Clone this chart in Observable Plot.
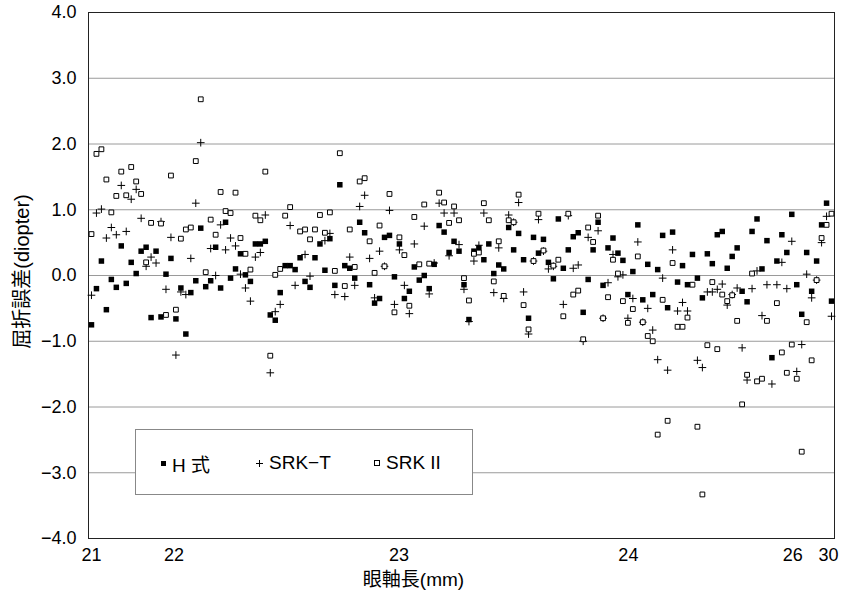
<!DOCTYPE html>
<html><head><meta charset="utf-8">
<script src="https://cdn.jsdelivr.net/npm/d3@7"></script>
<script src="https://cdn.jsdelivr.net/npm/@observablehq/plot@0.6"></script>
<style>
body{margin:0;background:#fff;}
#wrap{position:relative;width:843px;height:590px;font-family:"Liberation Sans","Noto Sans CJK JP",sans-serif;}
#legend{position:absolute;left:135px;top:429px;width:338px;height:66px;border:1px solid #888;background:#fff;box-sizing:border-box;font-size:19px;color:#000;}
#legend .item{position:absolute;top:0;height:66px;display:flex;align-items:center;}
#legend svg{margin-right:5px;}
</style></head><body><div id="wrap"></div>
<script>
// patients sorted by axial length; one value per patient per formula (null = hidden / not visible)
const hSeries = [-0.75,-0.20,0.22,-0.52,-0.06,-0.18,0.45,-0.12,0.20,0.03,0.37,0.43,-0.64,0.37,-0.63,0.02,0.26,-0.66,-0.19,-0.89,
-0.26,-0.08,0.72,-0.17,-0.08,0.43,-0.19,0.81,-0.04,0.10,0.33,0.01,-0.09,0.48,0.48,0.52,-0.60,-0.68,-0.26,0.15,
0.15,0.09,0.27,-0.09,-0.18,0.27,0.48,0.08,0.56,-0.15,1.38,0.15,0.11,-0.04,0.81,0.65,-0.14,-0.42,-0.35,0.58,
0.61,-0.02,0.48,-0.35,-0.24,0.13,-0.07,0.00,-0.20,0.17,0.76,0.66,0.35,0.52,0.37,-0.14,-0.67,0.37,0.42,0.24,
0.48,0.03,0.16,0.10,0.73,0.39,0.64,0.24,-0.65,0.58,0.34,0.55,0.20,-0.05,0.86,0.11,0.39,0.59,0.65,-0.56,
-0.06,0.39,0.81,-0.15,0.42,0.57,0.34,0.23,-0.29,0.06,0.77,-0.37,0.17,-0.29,0.09,0.61,-0.49,0.66,-0.10,0.15,
-0.14,0.32,-0.04,-0.34,0.33,0.18,0.62,0.67,0.11,0.29,0.42,-0.24,-0.40,0.67,0.86,0.10,0.53,-1.25,0.22,0.62,
0.35,0.93,-0.14,-0.59,0.35,-0.24,0.22,0.77,1.10,-0.39];
const tSeries = [-0.30,0.95,1.01,0.57,0.73,0.62,1.37,0.67,1.16,1.31,0.87,0.14,0.28,0.19,0.82,-0.21,0.58,-1.21,-0.25,-0.29,
0.26,1.10,2.02,null,0.41,0.00,0.77,0.39,0.57,0.45,0.02,-0.19,-0.39,0.28,0.35,0.92,-1.48,-0.55,-0.44,null,
0.76,-0.15,null,0.32,-0.01,null,null,0.53,0.64,-0.29,null,-0.32,0.28,-0.15,1.05,1.22,0.26,-0.34,0.37,0.14,
0.99,-0.44,0.39,-0.15,-0.58,0.48,null,0.75,-0.28,0.19,1.10,0.95,0.30,0.95,0.47,-0.21,-0.70,0.22,0.46,0.95,
null,-0.26,0.42,-0.35,0.92,0.81,1.11,-0.25,-0.89,0.22,0.85,0.37,0.10,0.14,null,-0.44,0.91,0.11,0.16,-1.00,
0.58,null,0.68,-0.65,-0.11,0.32,-0.02,0.01,-0.65,-0.35,0.51,-0.71,-0.50,-0.83,-1.28,-0.04,-1.44,0.39,-0.54,-0.41,
-0.54,null,-1.29,-1.40,-0.25,-0.25,-0.21,-0.13,-0.45,-0.29,-0.19,-1.10,-1.59,-0.20,0.07,-0.61,-0.14,-1.65,-0.14,0.20,
-0.20,0.52,-1.46,-1.05,0.02,-0.34,-0.07,0.50,0.90,-0.62];
const sSeries = [0.63,1.85,1.92,1.46,0.96,1.21,1.58,1.22,1.65,1.43,1.24,0.20,0.80,null,0.79,-0.60,1.52,-0.52,0.56,0.70,
0.73,1.74,2.68,0.05,0.85,0.62,1.27,0.98,0.95,1.26,0.57,0.33,0.09,0.91,0.84,1.58,-1.22,0.01,0.10,0.91,
1.04,null,0.67,0.70,0.55,0.70,0.92,0.65,0.96,0.07,1.86,-0.16,0.70,0.13,1.43,1.48,0.52,0.04,0.76,0.14,
1.24,-0.56,0.58,0.31,-0.46,0.89,0.17,1.08,0.18,null,1.26,1.11,0.80,1.05,0.84,-0.04,-0.38,0.33,0.35,1.10,
0.84,-0.09,0.52,-0.31,0.84,0.81,1.23,-0.45,-0.82,0.22,0.94,0.38,null,0.15,0.24,-0.62,0.94,-0.29,-0.23,-0.97,
0.73,0.51,0.91,-0.65,-0.33,0.24,0.03,-0.39,-0.72,-0.51,0.29,-0.71,-0.92,-1.00,-2.42,-0.37,-2.21,0.19,-0.78,-0.78,
-0.64,-0.14,-2.30,-3.33,-1.06,-0.10,-1.12,-0.29,-0.39,-0.30,-0.69,-1.96,-1.51,0.03,-1.61,-1.57,-0.69,null,-0.42,-1.17,
-1.48,-1.05,-1.57,-2.68,-0.71,-1.29,-0.07,0.57,0.77,0.94];
// axial length tick marks placed at patient rank where that length is reached
const xTickPos = [0, 16.6, 61.9, 108.1, 141.2, 148.4];
const xTickLabels = ["21", "22", "23", "24", "26", "30"];
const yTicks = [-4, -3, -2, -1, 0, 1, 2, 3, 4];
const seriesNames = ["H 式", "SRK−T", "SRK II"];
const xTitle = "眼軸長(mm)";
const yTitle = "屈折誤差(diopter)";

const FONT = '"Liberation Sans","Noto Sans CJK JP",sans-serif';
const idx = d3.range(hSeries.length);
const fmtY = d => (d < 0 ? "\u2212" : "") + Math.abs(d).toFixed(1);

const chart = Plot.plot({
  width: 843, height: 590,
  marginLeft: 88, marginRight: 9, marginTop: 12, marginBottom: 52,
  style: {fontFamily: FONT, fontSize: "18px", color: "#000", background: "#fff"},
  x: {domain: [-0.6, 149.6], axis: null},
  y: {domain: [-4, 4], axis: null},
  marks: [
    Plot.gridY(yTicks.slice(1, -1), {stroke: "#9a9a9a", strokeOpacity: 1, strokeWidth: 1}),
    Plot.frame({stroke: "#222"}),
    Plot.axisX(xTickPos, {tickSize: 0, tickPadding: 10, fontSize: 18, label: null,
      tickFormat: d => xTickLabels[xTickPos.indexOf(d)]}),
    Plot.axisY(yTicks, {tickSize: 0, tickPadding: 12, fontSize: 18, label: null, tickFormat: fmtY}),
    Plot.text([xTitle], {text: d => d, frameAnchor: "bottom", dx: -48, dy: 41, lineAnchor: "middle", fontSize: 19}),
    Plot.text([yTitle], {text: d => d, frameAnchor: "left", textAnchor: "middle", lineAnchor: "middle", rotate: -90, dx: -66, dy: -4, fontSize: 20}),
    Plot.dot(idx, {x: i => i, y: i => hSeries[i], symbol: "square", fill: "#000", r: 3.1}),
    Plot.dot(idx, {x: i => i, y: i => tSeries[i], symbol: "plus", stroke: "#000", strokeWidth: 1, r: 2.6}),
    Plot.dot(idx, {x: i => i, y: i => sSeries[i], symbol: "square", fill: "#fff", stroke: "#000", strokeWidth: 1, r: 2.7})
  ]
});
const wrap = document.getElementById("wrap");
wrap.appendChild(chart);

// legend inside the plot area
const leg = document.createElement("div");
leg.id = "legend";
const sym = [
  '<svg width="7" height="7"><rect x="1" y="1" width="5" height="5" fill="#000"/></svg>',
  '<svg width="9" height="9"><path d="M1,4.5H8M4.5,1V8" stroke="#000" stroke-width="1"/></svg>',
  '<svg width="8" height="8"><rect x="1.5" y="1.5" width="5" height="5" fill="#fff" stroke="#000"/></svg>'
];
const lefts = [24, 119, 237];
seriesNames.forEach((n, k) => {
  const it = document.createElement("div");
  it.className = "item";
  it.style.left = lefts[k] + "px";
  it.innerHTML = sym[k] + "<span>" + n + "</span>";
  leg.appendChild(it);
});
wrap.appendChild(leg);
</script>
</body></html>
